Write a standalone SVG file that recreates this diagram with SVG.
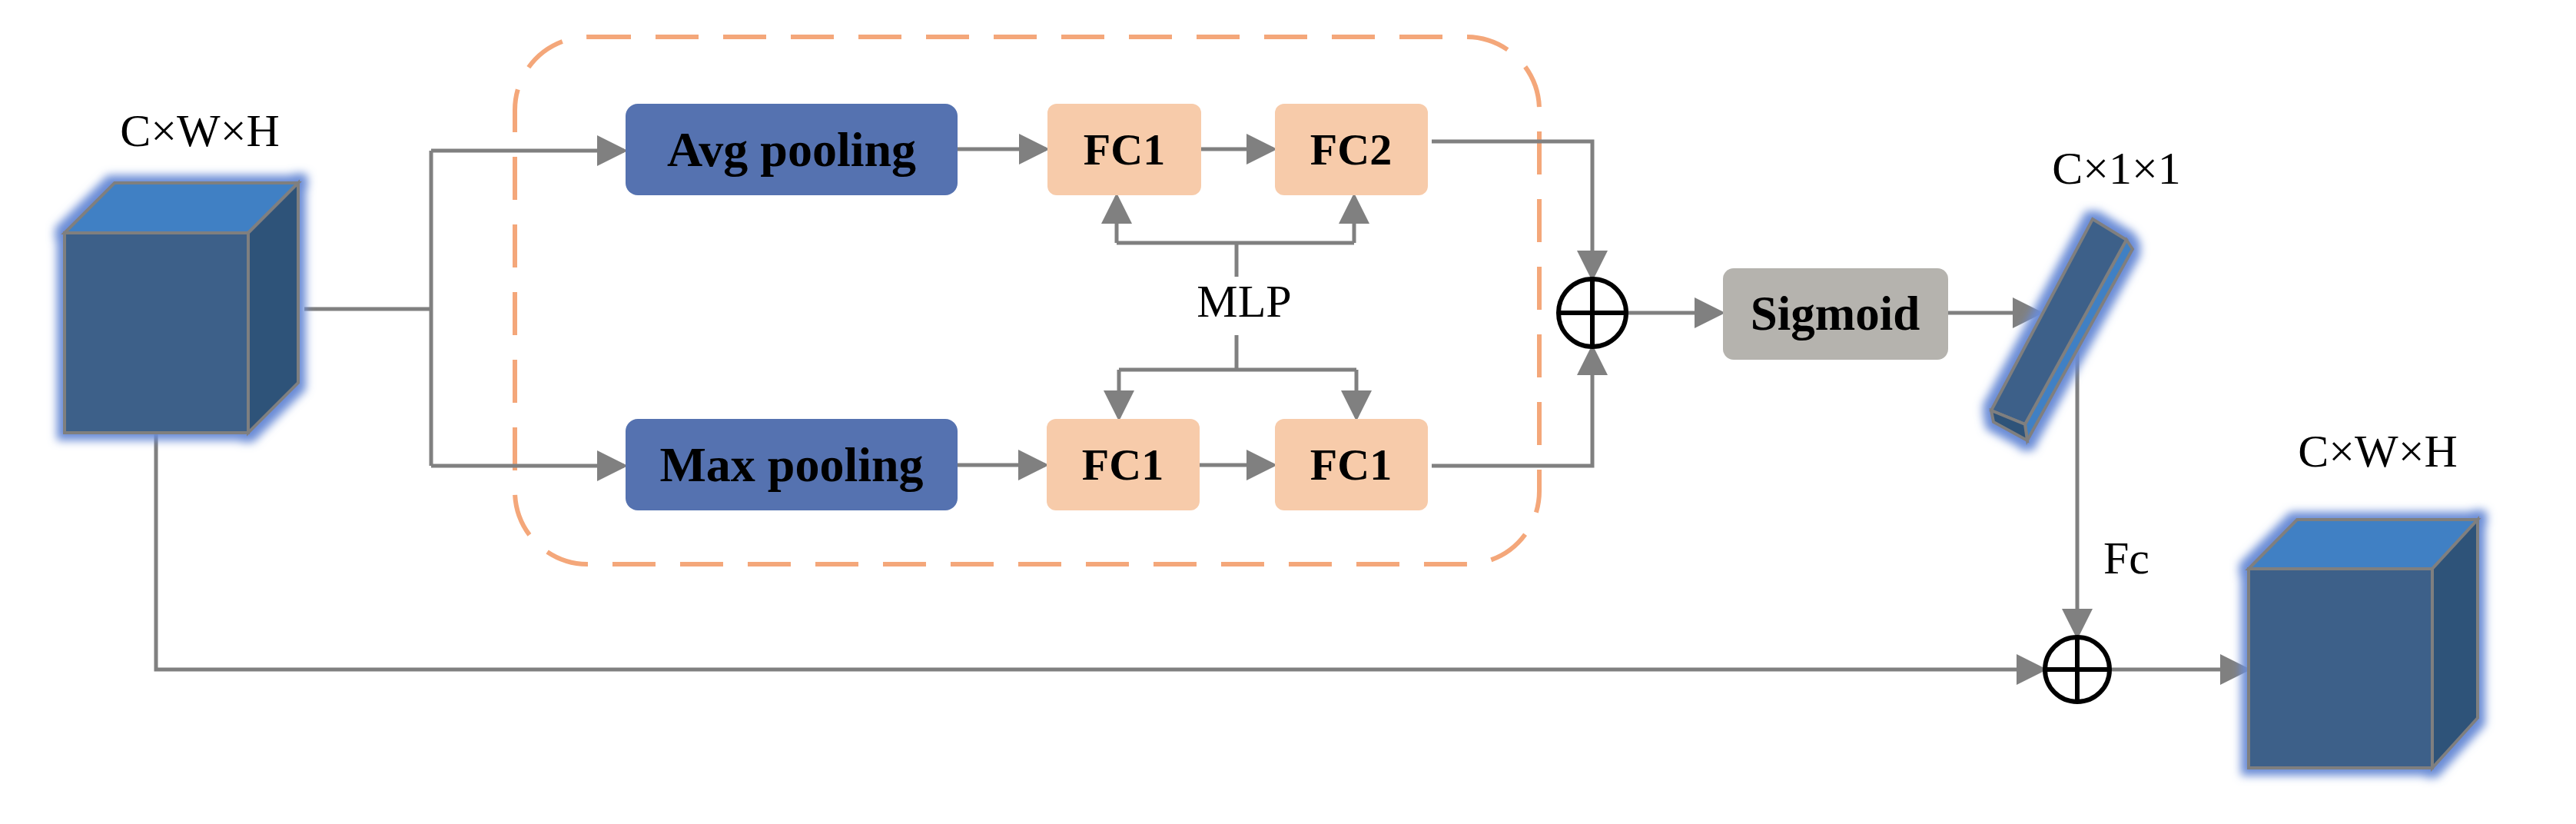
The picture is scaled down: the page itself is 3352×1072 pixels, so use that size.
<svg xmlns="http://www.w3.org/2000/svg" width="3352" height="1072" viewBox="0 0 3352 1072">
<style>
.ln{fill:none;stroke:#808080;stroke-width:5}
.lbl{font-family:"Liberation Serif",serif;font-size:60px;fill:#000}
.bt{font-family:"Liberation Serif",serif;font-weight:bold;font-size:58px;fill:#000;text-anchor:middle}
.big{font-size:64px}
.fc{fill:#F7CBAA}
.front{fill:#3E6189;stroke:#7f7f7f;stroke-width:4}
.top{fill:#4080C4;stroke:#7f7f7f;stroke-width:4}
.side{fill:#2F5279;stroke:#7f7f7f;stroke-width:4}
.plus{fill:#fff;stroke:#000;stroke-width:6}
</style>
<defs>
<marker id="ah" markerWidth="8" markerHeight="8" refX="7" refY="4" orient="auto" markerUnits="strokeWidth">
<path d="M0,0 L8,4 L0,8 Z" fill="#808080"/>
</marker>
<filter id="glow" x="-20%" y="-20%" width="140%" height="140%">
<feMorphology in="SourceAlpha" operator="dilate" radius="8" result="d"/>
<feGaussianBlur in="d" stdDeviation="6" result="b"/>
<feFlood flood-color="#6A8CD6"/>
<feComposite in2="b" operator="in" result="g"/>
<feMerge><feMergeNode in="g"/><feMergeNode in="SourceGraphic"/></feMerge>
</filter>
</defs>

<rect id="dashed-box" x="670" y="48" width="1333" height="686" rx="95" fill="none" stroke="#F4A77A" stroke-width="6" stroke-dasharray="56 32"/>

<g id="connectors">
<path class="ln" d="M396,402 H561"/>
<path class="ln" d="M561,196 V606"/>
<path class="ln" d="M561,196 H812" marker-end="url(#ah)"/>
<path class="ln" d="M561,606 H812" marker-end="url(#ah)"/>
<path class="ln" d="M1246,194 H1361" marker-end="url(#ah)"/>
<path class="ln" d="M1563,194 H1657" marker-end="url(#ah)"/>
<path class="ln" d="M1246,605 H1360" marker-end="url(#ah)"/>
<path class="ln" d="M1561,605 H1657" marker-end="url(#ah)"/>
<path class="ln" d="M1609,360 V316"/>
<path class="ln" d="M1453,316 H1762"/>
<path class="ln" d="M1453,316 V256" marker-end="url(#ah)"/>
<path class="ln" d="M1762,316 V256" marker-end="url(#ah)"/>
<path class="ln" d="M1609,436 V481"/>
<path class="ln" d="M1456,481 H1765"/>
<path class="ln" d="M1456,481 V543" marker-end="url(#ah)"/>
<path class="ln" d="M1765,481 V543" marker-end="url(#ah)"/>
<path class="ln" d="M1863,184 H2072 V361" marker-end="url(#ah)"/>
<path class="ln" d="M1863,606 H2072 V453" marker-end="url(#ah)"/>
<path class="ln" d="M2117,407 H2240" marker-end="url(#ah)"/>
<path class="ln" d="M2535,407 H2654" marker-end="url(#ah)"/>
<path class="ln" d="M2703,457 V827" marker-end="url(#ah)"/>
<path class="ln" d="M203,563 V871 H2659" marker-end="url(#ah)"/>
<path class="ln" d="M2745,871 H2924" marker-end="url(#ah)"/>
</g>

<g id="input-cube">
<g filter="url(#glow)">
<polygon class="top" points="84,303 149,238 388,238 323,303"/>
<polygon class="side" points="323,303 388,238 388,498 323,563"/>
<rect class="front" x="84" y="303" width="239" height="260"/>
</g>
<text class="lbl" x="260" y="190" text-anchor="middle">C×W×H</text>
</g>

<g id="avg-pooling"><rect x="814" y="135" width="432" height="119" rx="16" fill="#5572B0"/><text class="bt big" x="1030" y="216">Avg pooling</text></g>
<g id="max-pooling"><rect x="814" y="545" width="432" height="119" rx="16" fill="#5572B0"/><text class="bt big" x="1030" y="626">Max pooling</text></g>
<g id="fc1-top"><rect class="fc" x="1363" y="135" width="200" height="119" rx="12"/><text class="bt" x="1463" y="214">FC1</text></g>
<g id="fc2-top"><rect class="fc" x="1659" y="135" width="199" height="119" rx="12"/><text class="bt" x="1758" y="214">FC2</text></g>
<g id="fc1-bottom"><rect class="fc" x="1362" y="545" width="199" height="119" rx="12"/><text class="bt" x="1461" y="624">FC1</text></g>
<g id="fc1-bottom2"><rect class="fc" x="1659" y="545" width="199" height="119" rx="12"/><text class="bt" x="1758" y="624">FC1</text></g>
<g id="mlp"><text class="lbl" x="1619" y="412" text-anchor="middle">MLP</text></g>

<g id="sum1"><circle class="plus" cx="2072" cy="407" r="44"/><path d="M2028,407 H2116 M2072,363 V451" stroke="#000" stroke-width="6"/></g>

<g id="sigmoid"><rect x="2242" y="349" width="293" height="119" rx="14" fill="#B5B3AE"/><text class="bt" x="2388" y="429" style="font-size:63px">Sigmoid</text></g>

<g id="channel-vector">
<g filter="url(#glow)">
<polygon class="side" points="2767,312 2775,324 2638,573 2635,552" style="fill:#4080C4"/>
<polygon class="front" points="2723,285 2767,312 2635,552 2591,534"/>
<polygon class="side" points="2591,534 2635,552 2638,573 2594,549"/>
</g>
<text class="lbl" x="2754" y="239" text-anchor="middle">C×1×1</text>
</g>

<g id="fc-label"><text class="lbl" x="2737" y="746">Fc</text></g>

<g id="sum2"><circle class="plus" cx="2703" cy="871" r="42"/><path d="M2661,871 H2745 M2703,829 V913" stroke="#000" stroke-width="6"/></g>

<g id="output-cube">
<g filter="url(#glow)">
<polygon class="top" points="2926,740 2989,676 3224,676 3165,740"/>
<polygon class="side" points="3165,740 3224,676 3224,934 3165,999"/>
<rect class="front" x="2926" y="740" width="239" height="259"/>
</g>
<text class="lbl" x="3094" y="607" text-anchor="middle">C×W×H</text>
</g>
</svg>
